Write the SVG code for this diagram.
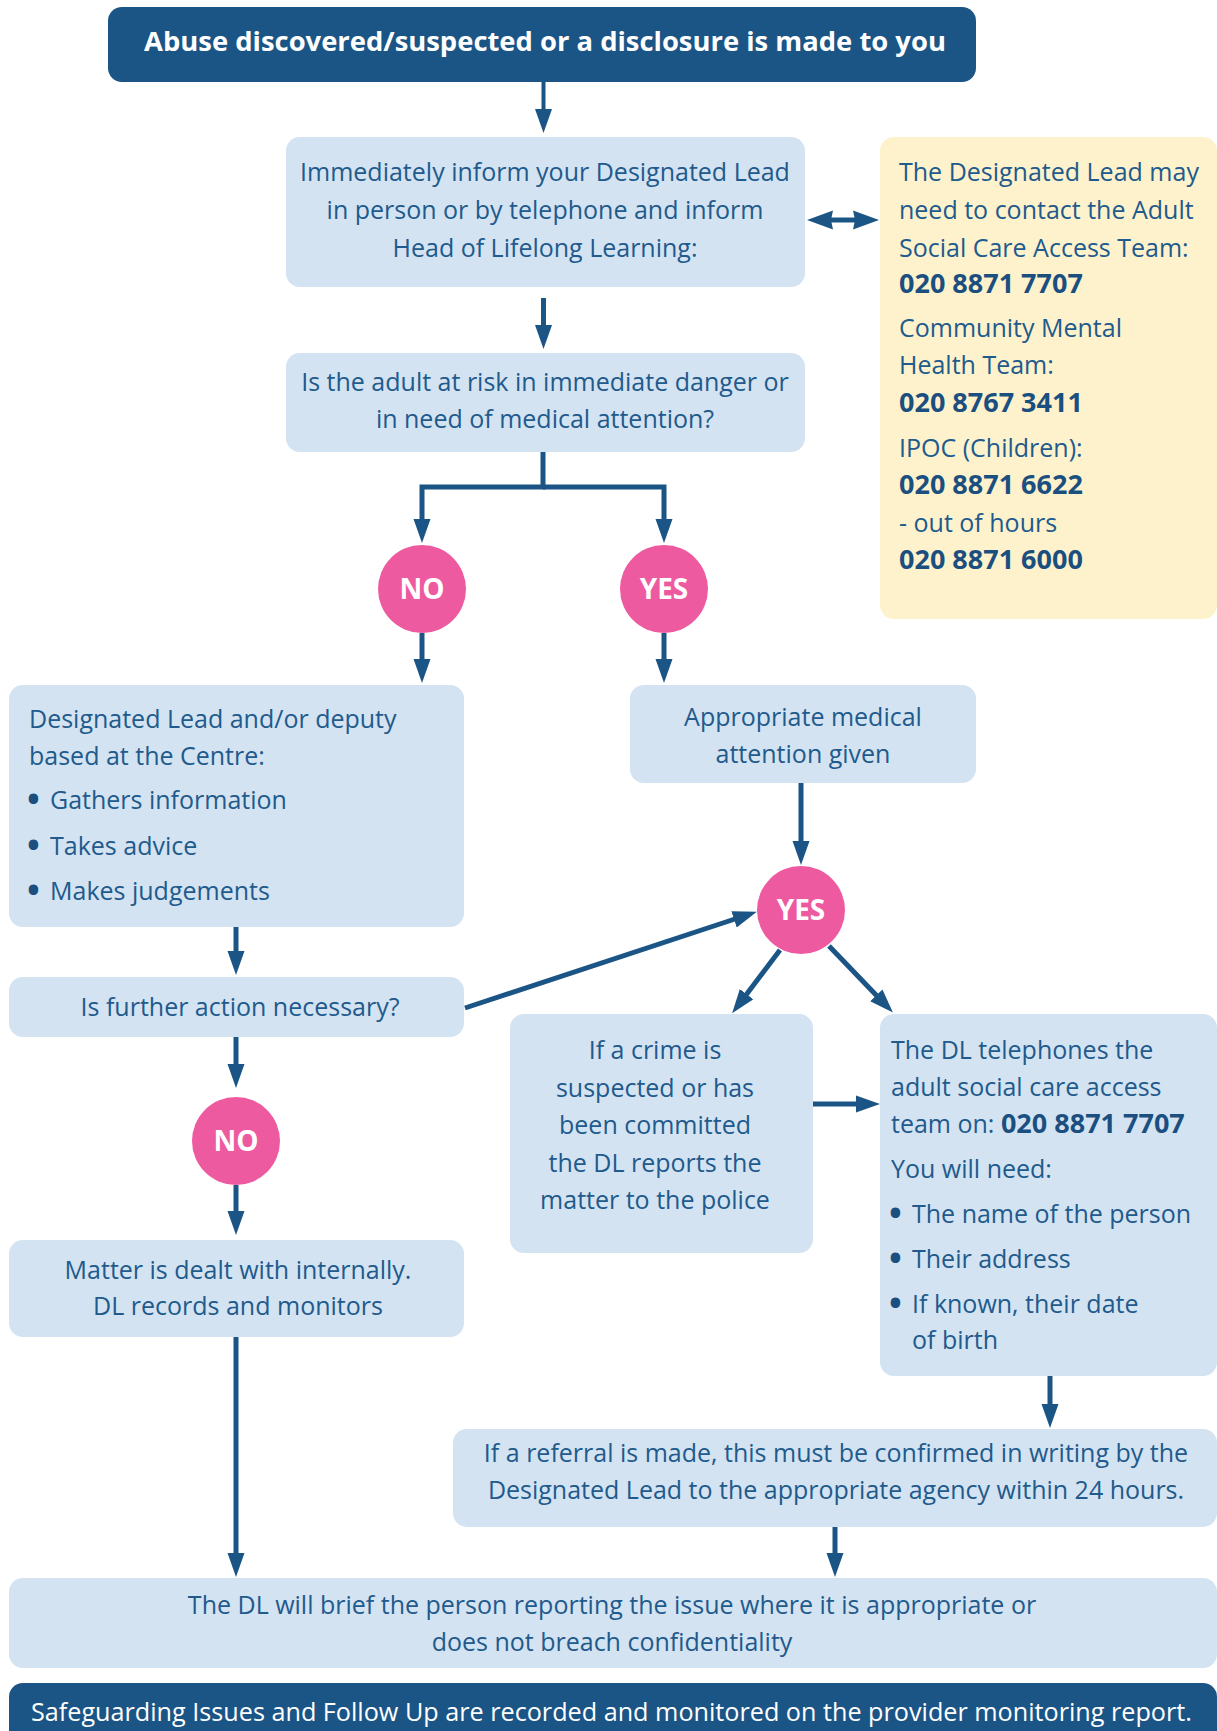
<svg xmlns="http://www.w3.org/2000/svg" width="1217" height="1731" viewBox="0 0 1217 1731">
<style>
.dark{fill:#1b5586}
.lb{fill:#d4e3f1}
.yl{fill:#fdf2cb}
.pk{fill:#ee5a9f}
text{font-family:"Open Sans","Noto Sans","Liberation Sans",sans-serif;font-size:25px;fill:#215a8c}
.c{text-anchor:middle}
.b{font-weight:700;fill:#1b4f80;font-size:27px}
.w{fill:#ffffff;font-size:25.2px}
.wb{fill:#ffffff;font-weight:700;font-size:27.4px}
.lbl{fill:#ffffff;font-weight:700;font-size:28px;text-anchor:middle}
.bul{font-size:34px;font-weight:700;fill:#1b4f80}
.ln{fill:none;stroke:#1b5586;stroke-width:5}
</style>
<defs>
<marker id="ah" viewBox="0 -9 24 18" refX="1" refY="0" markerWidth="24" markerHeight="18" markerUnits="userSpaceOnUse" orient="auto">
<path d="M0,-8.5 L24,0 L0,8.5 Z" fill="#1b5586"/>
</marker>
<marker id="dh" viewBox="0 -10 26 20" refX="2" refY="0" markerWidth="26" markerHeight="20" markerUnits="userSpaceOnUse" orient="auto-start-reverse">
<path d="M0,-9.5 L26,0 L0,9.5 L2,0 Z" fill="#1b5586"/>
</marker>
</defs>

<g id="connectors">
<path class="ln" style="stroke-width:4" d="M543.5,82 V110" marker-end="url(#ah)"/>
<path class="ln" d="M543.5,298 V326" marker-end="url(#ah)"/>
<path class="ln" d="M831,220 H855" marker-start="url(#dh)" marker-end="url(#dh)"/>
<path class="ln" d="M543,452 V487 H422 V520" marker-end="url(#ah)"/>
<path class="ln" d="M543,487 H664 V520" marker-end="url(#ah)"/>
<path class="ln" d="M422,633 V660" marker-end="url(#ah)"/>
<path class="ln" d="M664,633 V660" marker-end="url(#ah)"/>
<path class="ln" d="M801,783 V842" marker-end="url(#ah)"/>
<path class="ln" d="M236,927 V952" marker-end="url(#ah)"/>
<path class="ln" d="M465,1008 L735,919" marker-end="url(#ah)"/>
<path class="ln" d="M780,950 L746,995" marker-end="url(#ah)"/>
<path class="ln" d="M829,946 L877,996" marker-end="url(#ah)"/>
<path class="ln" d="M236,1037 V1065" marker-end="url(#ah)"/>
<path class="ln" d="M236,1185 V1212" marker-end="url(#ah)"/>
<path class="ln" d="M813,1104 H857" marker-end="url(#ah)"/>
<path class="ln" d="M236,1337 V1554" marker-end="url(#ah)"/>
<path class="ln" d="M1050,1376 V1405" marker-end="url(#ah)"/>
<path class="ln" d="M835,1527 V1554" marker-end="url(#ah)"/>
</g>

<g id="start">
<rect class="dark" x="108" y="7" width="868" height="75" rx="14"/>
<text class="wb c" x="545" y="51">Abuse discovered/suspected or a disclosure is made to you</text>
</g>

<g id="inform">
<rect class="lb" x="286" y="137" width="519" height="150" rx="14"/>
<text class="c" x="545" y="181">Immediately inform your Designated Lead</text>
<text class="c" x="545" y="219">in person or by telephone and inform</text>
<text class="c" x="545" y="257">Head of Lifelong Learning:</text>
</g>

<g id="contacts">
<rect class="yl" x="880" y="137" width="337" height="482" rx="14"/>
<text x="899" y="181">The Designated Lead may</text>
<text x="899" y="219">need to contact the Adult</text>
<text x="899" y="257">Social Care Access Team:</text>
<text class="b" x="899" y="293">020 8871 7707</text>
<text x="899" y="337">Community Mental</text>
<text x="899" y="374">Health Team:</text>
<text class="b" x="899" y="412">020 8767 3411</text>
<text x="899" y="457">IPOC (Children):</text>
<text class="b" x="899" y="494">020 8871 6622</text>
<text x="899" y="532">- out of hours</text>
<text class="b" x="899" y="569">020 8871 6000</text>
</g>

<g id="danger">
<rect class="lb" x="286" y="353" width="519" height="99" rx="14"/>
<text class="c" x="545" y="391">Is the adult at risk in immediate danger or</text>
<text class="c" x="545" y="428">in need of medical attention?</text>
</g>

<g id="no1">
<circle class="pk" cx="422" cy="589" r="44"/>
<text class="lbl" x="422" y="599">NO</text>
</g>

<g id="yes1">
<circle class="pk" cx="664" cy="589" r="44"/>
<text class="lbl" x="664" y="599">YES</text>
</g>

<g id="dl-deputy">
<rect class="lb" x="9" y="685" width="455" height="242" rx="14"/>
<text x="29" y="728">Designated Lead and/or deputy</text>
<text x="29" y="765">based at the Centre:</text>
<text class="bul" x="27" y="811">•</text><text x="50" y="809">Gathers information</text>
<text class="bul" x="27" y="857">•</text><text x="50" y="855">Takes advice</text>
<text class="bul" x="27" y="902">•</text><text x="50" y="900">Makes judgements</text>
</g>

<g id="medical">
<rect class="lb" x="630" y="685" width="346" height="98" rx="14"/>
<text class="c" x="803" y="726">Appropriate medical</text>
<text class="c" x="803" y="763">attention given</text>
</g>

<g id="yes2">
<circle class="pk" cx="801" cy="910" r="44"/>
<text class="lbl" x="801" y="920">YES</text>
</g>

<g id="further">
<rect class="lb" x="9" y="977" width="455" height="60" rx="14"/>
<text class="c" x="240" y="1016">Is further action necessary?</text>
</g>

<g id="crime">
<rect class="lb" x="510" y="1014" width="303" height="239" rx="14"/>
<text class="c" x="655" y="1059">If a crime is</text>
<text class="c" x="655" y="1097">suspected or has</text>
<text class="c" x="655" y="1134">been committed</text>
<text class="c" x="655" y="1172">the DL reports the</text>
<text class="c" x="655" y="1209">matter to the police</text>
</g>

<g id="dl-phone">
<rect class="lb" x="880" y="1014" width="337" height="362" rx="14"/>
<text x="891" y="1059">The DL telephones the</text>
<text x="891" y="1096">adult social care access</text>
<text x="891" y="1133">team on: <tspan class="b">020 8871 7707</tspan></text>
<text x="891" y="1178">You will need:</text>
<text class="bul" x="889" y="1225">•</text><text x="912" y="1223">The name of the person</text>
<text class="bul" x="889" y="1270">•</text><text x="912" y="1268">Their address</text>
<text class="bul" x="889" y="1315">•</text><text x="912" y="1313">If known, their date</text>
<text x="912" y="1349">of birth</text>
</g>

<g id="no2">
<circle class="pk" cx="236" cy="1141" r="44"/>
<text class="lbl" x="236" y="1151">NO</text>
</g>

<g id="internal">
<rect class="lb" x="9" y="1240" width="455" height="97" rx="14"/>
<text class="c" x="238" y="1279">Matter is dealt with internally.</text>
<text class="c" x="238" y="1315">DL records and monitors</text>
</g>

<g id="referral">
<rect class="lb" x="453" y="1429" width="764" height="98" rx="14"/>
<text class="c" x="836" y="1462">If a referral is made, this must be confirmed in writing by the</text>
<text class="c" x="836" y="1499">Designated Lead to the appropriate agency within 24 hours.</text>
</g>

<g id="brief">
<rect class="lb" x="9" y="1578" width="1208" height="90" rx="14"/>
<text class="c" x="612" y="1614">The DL will brief the person reporting the issue where it is appropriate or</text>
<text class="c" x="612" y="1651">does not breach confidentiality</text>
</g>

<g id="footer">
<rect class="dark" x="9" y="1683" width="1208" height="70" rx="14"/>
<text class="w" x="31" y="1721">Safeguarding Issues and Follow Up are recorded and monitored on the provider monitoring report.</text>
</g>
</svg>
